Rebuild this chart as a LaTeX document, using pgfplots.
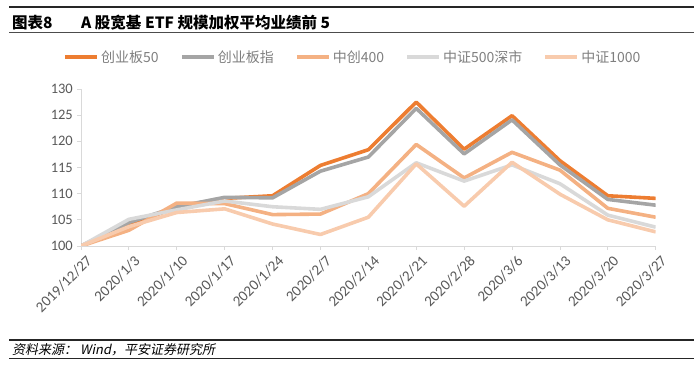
\documentclass[border=0pt]{standalone}
\usepackage{pgfplots}
\pgfplotsset{compat=1.18}
\usepackage{fontspec}
\setmainfont{Carlito}
\newfontfamily\cjk{Noto Sans CJK SC}
\newfontfamily\cjkit[FakeSlant=0.2]{Noto Sans CJK SC}
\definecolor{c1}{HTML}{ED7D31}
\definecolor{c2}{HTML}{A5A5A5}
\definecolor{c3}{HTML}{F4B183}
\definecolor{c4}{HTML}{D9D9D9}
\definecolor{c5}{HTML}{F8CBAD}
\definecolor{axgrey}{HTML}{D9D9D9}
\definecolor{tickgrey}{HTML}{595959}
\definecolor{leggrey}{HTML}{7F7F7F}
\begin{document}
\begin{tikzpicture}
\useasboundingbox (0pt,0pt) rectangle (700pt,366pt);
% header
\draw[line width=1.8pt, black!85] (9pt,358.7pt) -- (694pt,358.7pt);
\node[anchor=west, inner sep=0pt, font=\cjk\bfseries\fontsize{15.5}{18}\selectfont] at (12pt,343.3pt) {图表8};
\node[anchor=west, inner sep=0pt, font=\cjk\bfseries\fontsize{15.5}{18}\selectfont] at (81pt,343.3pt) {A 股宽基 ETF 规模加权平均业绩前 5};
\draw[line width=0.8pt, black!70] (9pt,333.7pt) -- (694pt,333.7pt);
% footer
\draw[line width=1.4pt, black!85] (9pt,26pt) -- (694pt,26pt);
\node[anchor=west, inner sep=0pt, font=\cjkit\fontsize{13}{15}\selectfont] at (12pt,16.7pt) {资料来源： Wind，平安证券研究所};
\draw[line width=1pt, black!85] (9pt,7.7pt) -- (694pt,7.7pt);
\begin{axis}[
  at={(81pt,120pt)}, anchor=south west,
  scale only axis, width=574.7pt, height=157pt,
  xmin=0, xmax=12, ymin=100, ymax=130,
  xtick={0,...,12},
  xticklabels={2019/12/27,2020/1/3,2020/1/10,2020/1/17,2020/1/24,2020/2/7,2020/2/14,2020/2/21,2020/2/28,2020/3/6,2020/3/13,2020/3/20,2020/3/27},
  ytick={100,105,...,130},
  /pgf/number format/assume math mode=true,
  axis x line*=bottom, axis y line*=left,
  axis line style={draw=axgrey, line width=0.8pt, -},
  tick style={draw=axgrey, line width=0.8pt},
  major tick length=4pt, tick align=outside,
  ticklabel style={text=tickgrey, font=\fontsize{14.5}{16}\selectfont},
  xticklabel style={rotate=45, anchor=east, inner sep=1pt, yshift=-12pt, xshift=1pt, font=\fontsize{15}{16}\selectfont},
  yticklabel style={inner sep=0pt, xshift=-4pt},
  legend columns=5,
  legend style={at={(0.473,1.202)}, anchor=center, draw=none, fill=none,
    font=\cjk\fontsize{14}{16}\selectfont, text=leggrey,
    /tikz/every even column/.append style={column sep=19pt}},
  legend image code/.code={\draw[#1, line width=4pt] (0pt,0pt) -- (32pt,0pt);},
  every axis plot/.append style={line width=3.6pt, line join=round, mark=none},
]
\addplot[c1] coordinates {(0,100) (1,104.2) (2,107.3) (3,109.1) (4,109.6) (5,115.4) (6,118.4) (7,127.5) (8,118.5) (9,124.9) (10,116.3) (11,109.6) (12,109.1)};
\addlegendentry{创业板50}
\addplot[c2] coordinates {(0,100) (1,104.5) (2,107.5) (3,109.3) (4,109.2) (5,114.3) (6,117.0) (7,126.3) (8,117.6) (9,124.1) (10,115.5) (11,108.9) (12,107.8)};
\addlegendentry{创业板指}
\addplot[c3] coordinates {(0,100) (1,103.0) (2,108.2) (3,108.1) (4,106.0) (5,106.1) (6,110.0) (7,119.4) (8,113.0) (9,117.9) (10,114.5) (11,107.2) (12,105.5)};
\addlegendentry{中创400}
\addplot[c4] coordinates {(0,100) (1,105.1) (2,106.9) (3,108.6) (4,107.5) (5,107.0) (6,109.4) (7,115.9) (8,112.4) (9,115.5) (10,111.9) (11,105.9) (12,103.6)};
\addlegendentry{中证500深市}
\addplot[c5] coordinates {(0,100) (1,103.7) (2,106.4) (3,107.1) (4,104.2) (5,102.2) (6,105.5) (7,115.7) (8,107.6) (9,116.0) (10,109.9) (11,105.0) (12,102.7)};
\addlegendentry{中证1000}
\end{axis}
\end{tikzpicture}
\end{document}
